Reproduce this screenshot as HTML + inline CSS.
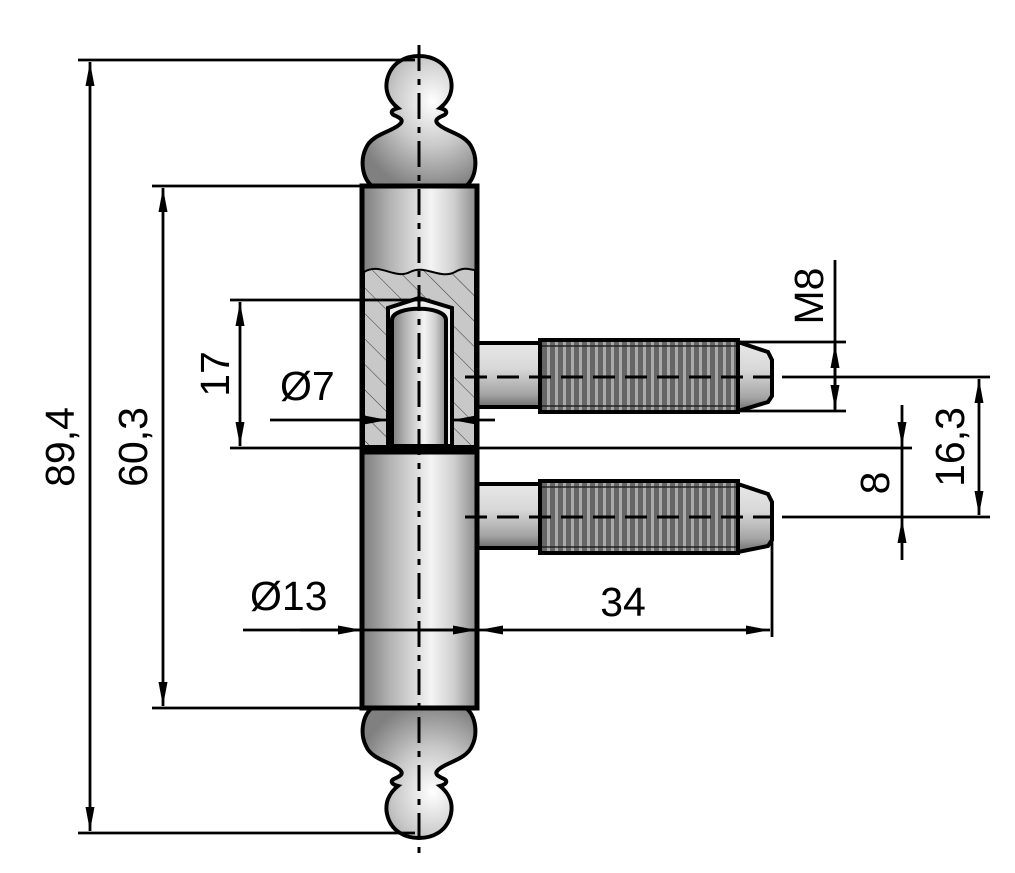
<!DOCTYPE html>
<html><head><meta charset="utf-8"><style>
html,body{margin:0;padding:0;background:#fff;}
svg{display:block;}
text{font-family:"Liberation Sans",Arial,sans-serif;font-size:41px;fill:#000;}
</style></head><body>
<svg width="1015" height="873" viewBox="0 0 1015 873" xmlns="http://www.w3.org/2000/svg">
<defs>
<linearGradient id="cyl" x1="0" y1="0" x2="1" y2="0">
<stop offset="0" stop-color="#7c7c7c"/><stop offset="0.25" stop-color="#b4b4b4"/>
<stop offset="0.6" stop-color="#f4f4f4"/><stop offset="0.8" stop-color="#cfcfcf"/><stop offset="1" stop-color="#8a8a8a"/>
</linearGradient>
<linearGradient id="pin" x1="0" y1="0" x2="0" y2="1">
<stop offset="0" stop-color="#e8e8e8"/><stop offset="0.4" stop-color="#d8d8d8"/><stop offset="0.8" stop-color="#a5a5a5"/><stop offset="1" stop-color="#6e6e6e"/>
</linearGradient>
<radialGradient id="ball" cx="0.62" cy="0.35" r="0.7">
<stop offset="0" stop-color="#ffffff"/><stop offset="0.5" stop-color="#c8c8c8"/><stop offset="1" stop-color="#808080"/>
</radialGradient>
<pattern id="thr" width="8" height="10" patternUnits="userSpaceOnUse">
<rect width="8" height="10" fill="#666"/><rect x="3" width="3" height="10" fill="#aaa"/>
</pattern>
<pattern id="hatch" width="18" height="18" patternUnits="userSpaceOnUse" patternTransform="rotate(-45)">
<rect width="18" height="18" fill="#c8c8c8"/><line x1="0" y1="0" x2="0" y2="18" stroke="#333" stroke-width="1"/>
</pattern>
<marker id="a" viewBox="0 0 24 9" refX="24" refY="4.5" markerWidth="24" markerHeight="9" markerUnits="userSpaceOnUse" orient="auto-start-reverse">
<path d="M0,0 L24,4.5 L0,9 Z" fill="#000"/></marker>
</defs>

<!-- top finial -->
<path d="M372,186 C362,178 360,160 366,148 C372,134 392,132 400,124 C404,120 400,118 396,116 C390,114 390,110 398,108 C388,100 385,90 387,80 C391,62 406,56 419,56 C432,56 447,62 451,80 C453,90 450,100 440,108 C448,110 448,114 442,116 C438,118 434,120 438,124 C446,132 466,134 472,148 C478,160 476,178 466,186 Z" fill="url(#ball)" stroke="#000" stroke-width="4"/>
<!-- bottom finial -->
<g transform="translate(0,894) scale(1,-1)">
<path d="M372,186 C362,178 360,160 366,148 C372,134 392,132 400,124 C404,120 400,118 396,116 C390,114 390,110 398,108 C388,100 385,90 387,80 C391,62 406,56 419,56 C432,56 447,62 451,80 C453,90 450,100 440,108 C448,110 448,114 442,116 C438,118 434,120 438,124 C446,132 466,134 472,148 C478,160 476,178 466,186 Z" fill="url(#ball)" stroke="#000" stroke-width="4"/>
</g>

<!-- pins -->
<g stroke="#000" stroke-width="4">
<rect x="477" y="343" width="65" height="64" fill="url(#pin)"/>
<path d="M738,342 L768,352 L772,360 L772,396 L768,402 L738,411 Z" fill="url(#pin)"/>
<rect x="540" y="340" width="198" height="72" fill="url(#thr)"/>
<rect x="477" y="484" width="65" height="64" fill="url(#pin)"/>
<path d="M738,484 L768,494 L772,502 L772,540 L768,546 L738,552 Z" fill="url(#pin)"/>
<rect x="540" y="481" width="198" height="72" fill="url(#thr)"/>
</g>
<g stroke="#222" stroke-width="1.5"><line x1="542" y1="346" x2="736" y2="346"/><line x1="542" y1="406" x2="736" y2="406"/>
<line x1="542" y1="487" x2="736" y2="487"/><line x1="542" y1="547" x2="736" y2="547"/></g>

<!-- body -->
<rect x="362" y="186" width="115" height="262" fill="url(#cyl)" stroke="#000" stroke-width="5"/>
<path d="M364,272 C380,262 395,280 410,272 C425,264 440,280 455,272 C465,266 470,270 475,270 L475,446 L364,446 Z" fill="url(#hatch)" stroke="#000" stroke-width="2"/>
<path d="M388,446 L388,308 L419,298 L452,308 L452,446 Z" fill="#eee" stroke="#000" stroke-width="4"/>
<path d="M392,446 L392,320 C392,305 446,305 446,320 L446,446 Z" fill="url(#cyl)" stroke="#000" stroke-width="4"/>
<rect x="362" y="186" width="115" height="262" fill="none" stroke="#000" stroke-width="5"/>
<rect x="362" y="452" width="115" height="256" fill="url(#cyl)" stroke="#000" stroke-width="5"/>
<line x1="362" y1="450" x2="477" y2="450" stroke="#000" stroke-width="5"/>

<!-- center lines -->
<g stroke="#000" stroke-width="3" fill="none">
<line x1="419" y1="45" x2="419" y2="856" stroke-dasharray="26,8,6,8"/>
<line x1="465" y1="377" x2="770" y2="377" stroke-dasharray="22,10"/>
<line x1="465" y1="517" x2="770" y2="517" stroke-dasharray="22,10"/>
</g>

<!-- dimension lines -->
<g stroke="#000" stroke-width="2.8" fill="none">
<line x1="78" y1="60" x2="415" y2="60"/><line x1="78" y1="833" x2="415" y2="833"/>
<line x1="90" y1="62" x2="90" y2="831" marker-start="url(#a)" marker-end="url(#a)"/>
<line x1="152" y1="186" x2="362" y2="186"/><line x1="152" y1="708" x2="362" y2="708"/>
<line x1="163" y1="188" x2="163" y2="706" marker-start="url(#a)" marker-end="url(#a)"/>
<line x1="230" y1="300" x2="430" y2="300"/><line x1="230" y1="448" x2="912" y2="448"/>
<line x1="240" y1="302" x2="240" y2="446" marker-start="url(#a)" marker-end="url(#a)"/>
<line x1="270" y1="420" x2="388" y2="420" marker-end="url(#a)"/>
<line x1="495" y1="420" x2="452" y2="420" marker-end="url(#a)"/>
<line x1="243" y1="630" x2="477" y2="630"/>
<line x1="300" y1="630" x2="362" y2="630" marker-end="url(#a)"/>
<line x1="420" y1="630" x2="477" y2="630" marker-end="url(#a)"/>
<line x1="479" y1="630" x2="770" y2="630" marker-start="url(#a)" marker-end="url(#a)"/>
<line x1="772" y1="520" x2="772" y2="637"/>
<line x1="740" y1="342" x2="846" y2="342"/><line x1="740" y1="411" x2="846" y2="411"/>
<line x1="835" y1="260" x2="835" y2="411"/>
<line x1="835" y1="376" x2="835" y2="344" marker-end="url(#a)"/>
<line x1="835" y1="377" x2="835" y2="409" marker-end="url(#a)"/>
<line x1="782" y1="377" x2="990" y2="377"/><line x1="782" y1="517" x2="990" y2="517"/>
<line x1="979" y1="379" x2="979" y2="515" marker-start="url(#a)" marker-end="url(#a)"/>
<line x1="902" y1="405" x2="902" y2="446" marker-end="url(#a)"/>
<line x1="902" y1="446" x2="902" y2="519"/>
<line x1="902" y1="560" x2="902" y2="519" marker-end="url(#a)"/>
</g>

<!-- labels -->
<text transform="translate(74,447) rotate(-90)" text-anchor="middle">89,4</text>
<text transform="translate(147,447) rotate(-90)" text-anchor="middle">60,3</text>
<text transform="translate(229,374) rotate(-90)" text-anchor="middle">17</text>
<text x="280" y="400">Ø7</text>
<text x="250" y="610">Ø13</text>
<text x="623" y="616" text-anchor="middle">34</text>
<text transform="translate(823,296) rotate(-90)" text-anchor="middle">M8</text>
<text transform="translate(889,483) rotate(-90)" text-anchor="middle">8</text>
<text transform="translate(964,447) rotate(-90)" text-anchor="middle">16,3</text>
</svg>
</body></html>
